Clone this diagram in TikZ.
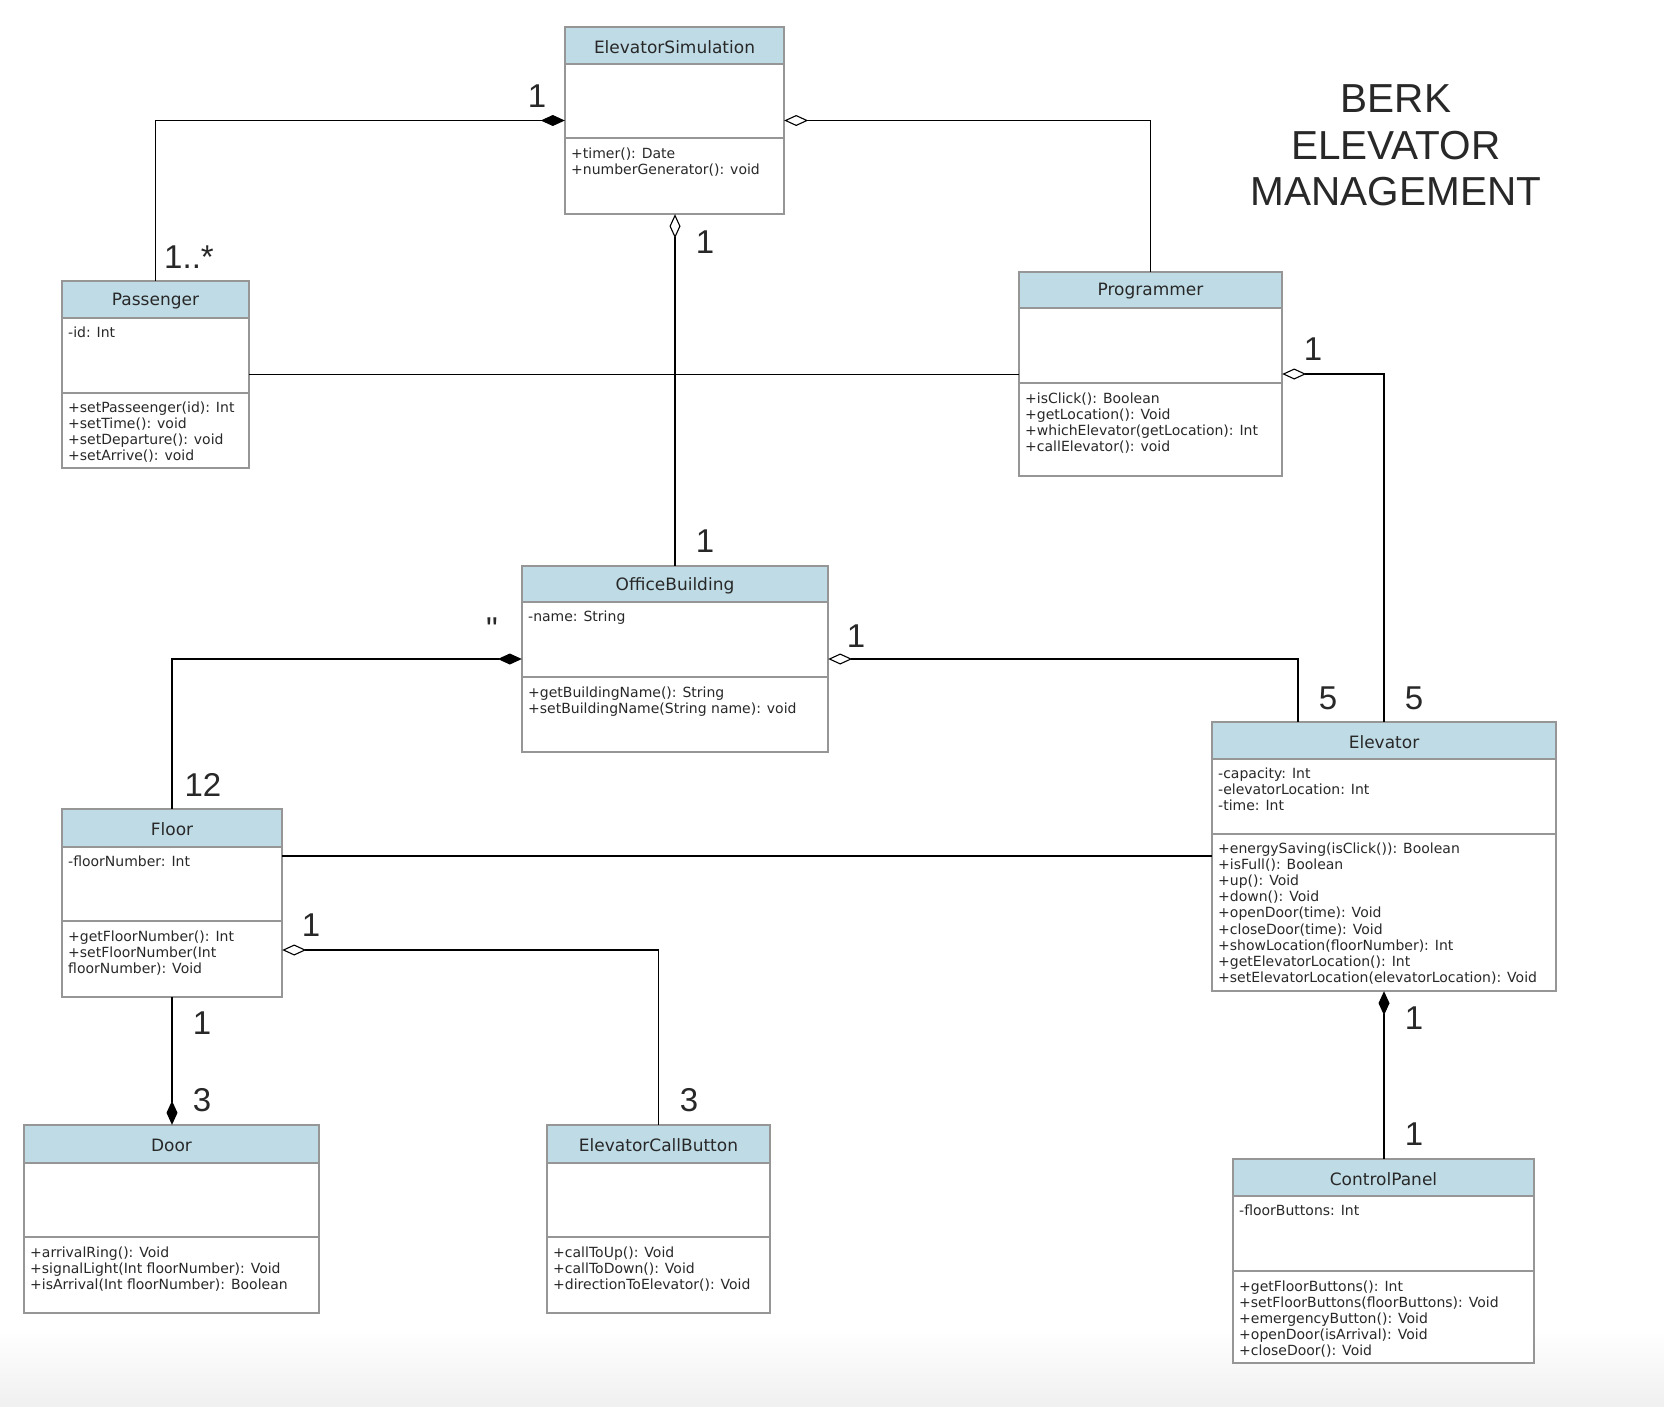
\documentclass[tikz,border=0pt]{standalone}
\usepackage{fontspec}
\setmainfont{DejaVu Sans}
\newfontfamily\labfont{Liberation Sans}
\usetikzlibrary{arrows.meta,fit}
\definecolor{hdrblue}{RGB}{191,220,230}
\definecolor{boxgray}{RGB}{150,150,150}
\definecolor{txt}{RGB}{40,40,40}
\tikzset{
  hdr/.style={fill=hdrblue},
  boxline/.style={draw=boxgray, line width=1.1pt},
  hdrtext/.style={inner sep=0pt, font=\fontsize{17}{20}\selectfont, text=txt},
  bodytext/.style={anchor=base west, inner sep=0pt, font=\fontsize{14}{16.2}\selectfont, text=txt},
  mult/.style={anchor=base, inner sep=0pt, font=\labfont\fontsize{33}{36}\selectfont, text=txt},
  conn/.style={draw=black, line width=1.1pt},
  comp/.style={conn, -{Diamond[length=24pt,width=11pt]}},
  aggr/.style={conn, -{Diamond[open,length=24pt,width=11pt,fill=white]}},
}
\newcommand\umlbox[8]{%
  \node[fit={(#2,#3) (#4,#5)}, inner sep=0pt, fill=white] (#1) {};
  \fill[hdr] (#2,#3) rectangle (#4,#6);
  \draw[boxline] (#2,#6) -- (#4,#6) (#2,#7) -- (#4,#7);
  \draw[boxline] (#2,#3) rectangle (#4,#5);
  \node[hdrtext] (#1-t) at ({(#2+#4)/2},{(#3+#6)/2+1.5}) {#8};
}
\newcommand\lines[1]{\begin{tabular}[t]{@{}l@{}}#1\end{tabular}}
\begin{document}
\begin{tikzpicture}[x=1pt,y=-1pt]
\useasboundingbox (0,0) rectangle (1664,1406);
\fill[white] (0,0) rectangle (1664,1406);
\shade[top color=white, bottom color=black!6] (0,1330) rectangle (1664,1406);

% Title
\node[anchor=base, inner sep=0pt, font=\labfont\fontsize{40.5}{46}\selectfont, text=txt] (title1) at (1396,112) {BERK};
\node[anchor=base, inner sep=0pt, font=\labfont\fontsize{40.5}{46}\selectfont, text=txt] (title2) at (1396,159) {ELEVATOR};
\node[anchor=base, inner sep=0pt, font=\labfont\fontsize{40.5}{46}\selectfont, text=txt] (title3) at (1396,205) {MANAGEMENT};

% Classes
\umlbox{es}{565}{27}{784}{214}{64}{138}{ElevatorSimulation}
\node[bodytext] (es-m) at (571,158) {\lines{+timer(): Date\\+numberGenerator(): void}};

\umlbox{pass}{62}{281}{249}{468}{318}{393}{Passenger}
\node[bodytext] (pass-a) at (68,337) {\lines{-id: Int}};
\node[bodytext] (pass-m) at (68,412) {\lines{+setPasseenger(id): Int\\+setTime(): void\\+setDeparture(): void\\+setArrive(): void}};

\umlbox{prog}{1019}{272}{1282}{476}{308}{383}{Programmer}
\node[bodytext] (prog-m) at (1025,403) {\lines{+isClick(): Boolean\\+getLocation(): Void\\+whichElevator(getLocation): Int\\+callElevator(): void}};

\umlbox{ob}{522}{566}{828}{752}{602}{677}{OfficeBuilding}
\node[bodytext] (ob-a) at (528,621) {\lines{-name: String}};
\node[bodytext] (ob-m) at (528,697) {\lines{+getBuildingName(): String\\+setBuildingName(String name): void}};

\umlbox{elev}{1212}{722}{1556}{991}{759}{834}{Elevator}
\node[bodytext] (elev-a) at (1218,778) {\lines{-capacity: Int\\-elevatorLocation: Int\\-time: Int}};
\node[bodytext] (elev-m) at (1218,853) {\lines{+energySaving(isClick()): Boolean\\+isFull(): Boolean\\+up(): Void\\+down(): Void\\+openDoor(time): Void\\+closeDoor(time): Void\\+showLocation(floorNumber): Int\\+getElevatorLocation(): Int\\+setElevatorLocation(elevatorLocation): Void}};

\umlbox{floor}{62}{809}{282}{997}{847}{921}{Floor}
\node[bodytext] (floor-a) at (68,866) {\lines{-floorNumber: Int}};
\node[bodytext] (floor-m) at (68,941) {\lines{+getFloorNumber(): Int\\+setFloorNumber(Int\\floorNumber): Void}};

\umlbox{door}{24}{1125}{319}{1313}{1163}{1237}{Door}
\node[bodytext] (door-m) at (30,1257) {\lines{+arrivalRing(): Void\\+signalLight(Int floorNumber): Void\\+isArrival(Int floorNumber): Boolean}};

\umlbox{ecb}{547}{1125}{770}{1313}{1163}{1237}{ElevatorCallButton}
\node[bodytext] (ecb-m) at (553,1257) {\lines{+callToUp(): Void\\+callToDown(): Void\\+directionToElevator(): Void}};

\umlbox{cp}{1233}{1159}{1534}{1363}{1196}{1271}{ControlPanel}
\node[bodytext] (cp-a) at (1239,1215) {\lines{-floorButtons: Int}};
\node[bodytext] (cp-m) at (1239,1291) {\lines{+getFloorButtons(): Int\\+setFloorButtons(floorButtons): Void\\+emergencyButton(): Void\\+openDoor(isArrival): Void\\+closeDoor(): Void}};

% Connectors
\draw[comp] (pass.north) |- (es.west);
\draw[aggr] (prog.north) |- (es.east);
\draw[aggr] (ob.north) -- (ob.north |- es.south);
\draw[conn] (pass.east) -- (pass.east -| prog.west);
\draw[aggr] (elev.north) |- (prog.east);
\draw[aggr] ([xshift=-86pt]elev.north) |- (ob.east);
\draw[comp] (floor.north) |- (ob.west);
\draw[conn] ([yshift=47pt]floor.east) -- ([yshift=47pt]floor.east -| elev.west);
\draw[aggr] (ecb.north) |- ([yshift=-47pt]floor.east);
\draw[comp] (floor.south) -- (floor.south |- door.north);
\draw[comp] (cp.north -| elev.south) -- (elev.south);

% Multiplicities
\node[mult] (m1) at (537,107) {1};
\node[mult] (m2) at (189,268) {1..*};
\node[mult] (m3) at (705,253) {1};
\node[mult] (m4) at (705,552) {1};
\node[mult] (m5) at (1313,360) {1};
\node[mult] (m6) at (1414,709) {5};
\node[mult] (m7) at (856,647) {1};
\node[mult] (m8) at (1328,709) {5};
\node[mult] (m9) at (492,640) {"};
\node[mult] (m10) at (203,796) {12};
\node[mult] (m11) at (311,936) {1};
\node[mult] (m12) at (689,1111) {3};
\node[mult] (m13) at (202,1034) {1};
\node[mult] (m14) at (202,1111) {3};
\node[mult] (m15) at (1414,1029) {1};
\node[mult] (m16) at (1414,1145) {1};
\end{tikzpicture}
\end{document}
